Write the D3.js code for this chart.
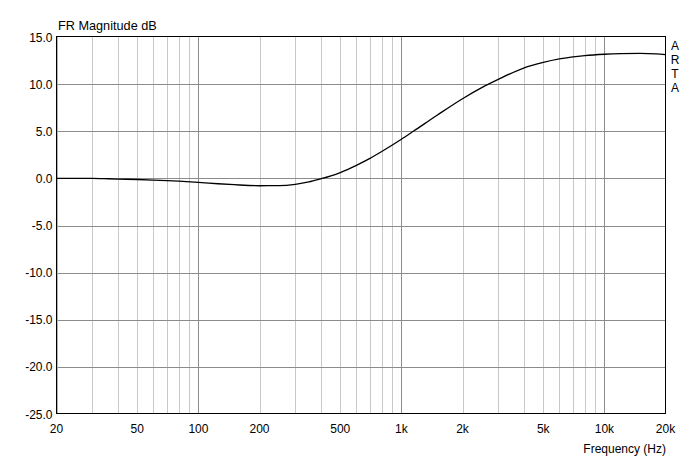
<!DOCTYPE html>
<html><head><meta charset="utf-8">
<script src="https://cdn.jsdelivr.net/npm/d3@7"></script>
<style>body{margin:0;background:#fff}svg{display:block}text{font-family:Arial,"Liberation Sans",sans-serif;font-size:12px;fill:#000}</style>
</head><body><svg id="c" width="683" height="459"></svg>
<script>
const freqs = [20,30,36,40,50,60,70,80,100,125,150,200,250,300,350,400,450,500,600,700,800,1000,1150,1500,2000,2500,3000,4000,5000,6000,7000,8000,10000,12000,15000,18000,20000];
const magDb = [0.0,0.0,-0.04,-0.07,-0.12,-0.18,-0.24,-0.3,-0.42,-0.57,-0.67,-0.78,-0.77,-0.63,-0.38,-0.05,0.27,0.62,1.38,2.12,2.85,4.15,5.02,6.7,8.45,9.65,10.5,11.7,12.3,12.67,12.9,13.03,13.17,13.24,13.27,13.22,13.12];
const yTicks = [15,10,5,0,-5,-10,-15,-20,-25];
const xTickValues = [20,50,100,200,500,1000,2000,5000,10000,20000];
const xTickLabels = ["20","50","100","200","500","1k","2k","5k","10k","20k"];
const minorFreqs = [30,40,50,60,70,80,90,200,300,400,500,600,700,800,900,2000,3000,4000,5000,6000,7000,8000,9000];
const majorFreqs = [100,1000,10000];

const svg = d3.select("#c");
const L=56.5, R=665.5, T=37, B=414;
const x = d3.scaleLog().domain([20,20000]).range([L,R]);
const y = d3.scaleLinear().domain([-25,15]).range([B,T]);
const px = v => Math.round(v)+0.5;

const g = svg.append("g").attr("shape-rendering","crispEdges");
g.selectAll(".mn").data(minorFreqs).enter().append("line")
 .attr("x1",d=>px(x(d))).attr("x2",d=>px(x(d))).attr("y1",T).attr("y2",B)
 .attr("stroke","#c8c8c8");
g.selectAll(".hz").data(yTicks.slice(1,-1)).enter().append("line")
 .attr("x1",L).attr("x2",R).attr("y1",d=>px(y(d))).attr("y2",d=>px(y(d)))
 .attr("stroke","#8c8c8c");
g.selectAll(".mj").data(majorFreqs).enter().append("line")
 .attr("x1",d=>px(x(d))).attr("x2",d=>px(x(d))).attr("y1",T).attr("y2",B)
 .attr("stroke","#8c8c8c");

// frame
g.append("line").attr("x1",56).attr("x2",666).attr("y1",36.5).attr("y2",36.5).attr("stroke","#000");
g.append("line").attr("x1",56).attr("x2",666).attr("y1",413.5).attr("y2",413.5).attr("stroke","#000");
g.append("line").attr("x1",665.5).attr("x2",665.5).attr("y1",36).attr("y2",414).attr("stroke","#000");
g.append("line").attr("x1",56.5).attr("x2",56.5).attr("y1",36).attr("y2",414).attr("stroke","#000");
g.append("line").attr("x1",57.5).attr("x2",57.5).attr("y1",37).attr("y2",413).attr("stroke","#c8c800");

// curve
const line = d3.line().x((d,i)=>x(freqs[i])).y(d=>y(d)).curve(d3.curveMonotoneX);
svg.append("path").datum(magDb).attr("d",line).attr("fill","none").attr("stroke","#000").attr("stroke-width",1.3);

// y labels
svg.selectAll(".yl").data(yTicks).enter().append("text")
 .attr("x",52.5).attr("y",d=>y(d)+4.5).attr("text-anchor","end").text(d=>d.toFixed(1));
// x labels
svg.selectAll(".xl").data(xTickValues).enter().append("text")
 .attr("x",(d)=>x(d)).attr("y",433).attr("text-anchor","middle").text((d,i)=>xTickLabels[i]);

svg.append("text").attr("x",58).attr("y",30).style("font-size","12.7px").text("FR Magnitude dB");
svg.append("text").attr("x",666).attr("y",453).attr("text-anchor","end").text("Frequency (Hz)");
["A","R","T","A"].forEach((c,i)=>svg.append("text").attr("x",675).attr("y",50+i*14).attr("text-anchor","middle").text(c));
</script></body></html>
